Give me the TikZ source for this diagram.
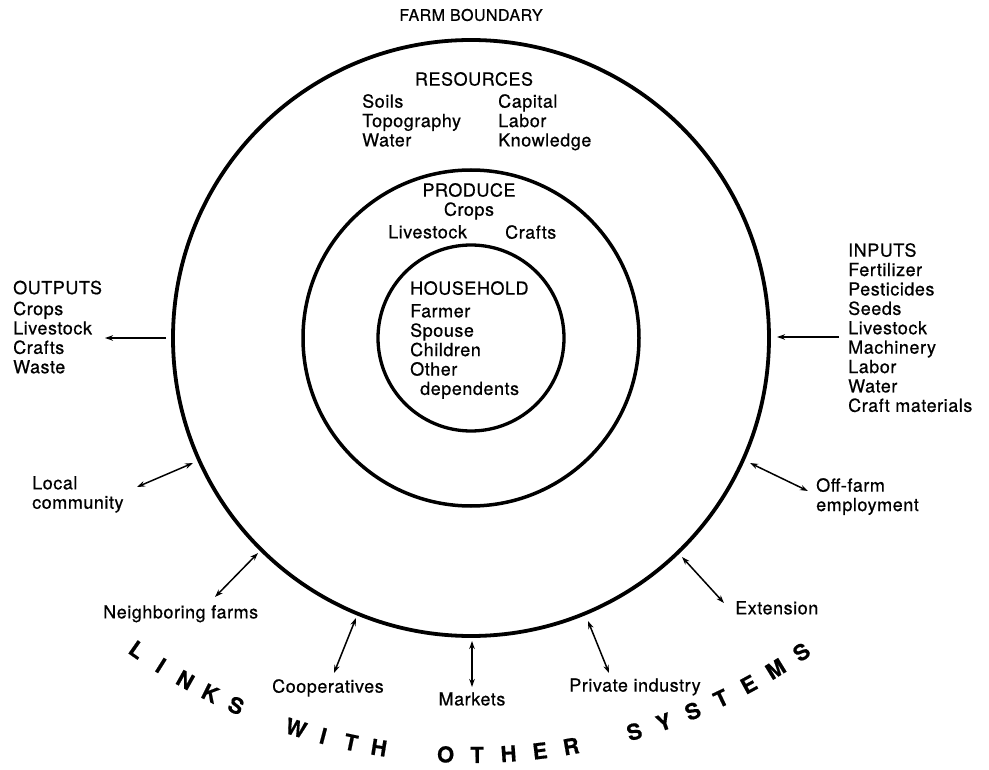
\documentclass[tikz,border=0pt]{standalone}
\usepackage{fontspec}
\setmainfont{TeX Gyre Heros}[LetterSpace=3,FakeBold=0.6]
\usetikzlibrary{arrows.meta}
\begin{document}
\begin{tikzpicture}[x=1pt,y=-1pt,
  ring/.style={draw, circle, inner sep=0pt, outer sep=0pt},
  txt/.style={inner sep=0pt, align=left, anchor=north west, font=\fontsize{18}{19.4}\selectfont},
  ctxt/.style={inner sep=0pt, anchor=center, font=\fontsize{18}{19.4}\selectfont},
  link/.style={line width=1.5pt, {Stealth[length=8pt,width=5.5pt]}-{Stealth[length=8pt,width=5.5pt]}},
  flow/.style={line width=1.5pt, -{Stealth[length=8pt,width=5.5pt]}},
  big/.style={inner sep=0pt, font=\bfseries\fontsize{22}{22}\selectfont}]
\useasboundingbox (0,0) rectangle (989,770);
\fill[white] (0,0) rectangle (989,770);

% circles
\node[ring, line width=3.8pt, minimum size=596pt] (outer) at (471,338) {};
\node[ring, line width=3.5pt, minimum size=336pt] (middle) at (471,338) {};
\node[ring, line width=3.3pt, minimum size=186pt] (inner) at (471,338) {};

% titles and texts
\node[ctxt, font=\fontsize{16}{16}\selectfont] (fb) at (471,15) {FARM BOUNDARY};
\node[ctxt] (res) at (474,79) {RESOURCES};
\node[txt] (resl) at (362,94) {Soils\\Topography\\Water};
\node[txt] (resr) at (498,94) {Capital\\Labor\\Knowledge};

\node[ctxt] (prod) at (469,190) {PRODUCE};
\node[ctxt] (pcrops) at (469,211) {Crops};
\node[txt] (pliv) at (388,225) {Livestock};
\node[txt] (pcraft) at (505,225) {Crafts};

\node[txt] (hh) at (410,281) {HOUSEHOLD};
\node[txt] (hhl) at (410,304) {Farmer\\Spouse\\Children\\Other\\\hspace*{10pt}dependents};

\node[txt] (out) at (13,280.5) {OUTPUTS\\[1.5pt]Crops\\Livestock\\Crafts\\Waste};
\node[txt] (inp) at (848,243) {INPUTS\\Fertilizer\\Pesticides\\Seeds\\Livestock\\Machinery\\Labor\\Water\\Craft materials};

\node[txt] (off) at (816,478) {Off-farm\\employment};
\node[txt] (ext) at (735,601) {Extension};
\node[txt] (loc) at (32,476) {Local\\community};
\node[txt] (nei) at (103,605) {Neighboring farms};
\node[txt] (coop) at (272,679) {Cooperatives};
\node[ctxt] (mkt) at (472,699) {Markets};
\node[ctxt] (priv) at (635,687) {Private industry};

% arrow end points
\coordinate (o1) at (166,338); \coordinate (o2) at (105,338);
\coordinate (i1) at (839,337); \coordinate (i2) at (777,337);
\coordinate (of1) at (750,463); \coordinate (of2) at (808,491);
\coordinate (ex1) at (682,557); \coordinate (ex2) at (724,603);
\coordinate (lc1) at (193,463); \coordinate (lc2) at (137,487);
\coordinate (nf1) at (258,553); \coordinate (nf2) at (215,597);
\coordinate (cp1) at (356,618); \coordinate (cp2) at (334,673);
\coordinate (mk1) at (472,641); \coordinate (mk2) at (472,687);
\coordinate (pi1) at (588,621); \coordinate (pi2) at (609,673);

\draw[flow] (o1) -- (o2);
\draw[flow] (i1) -- (i2);
\draw[link] (of1) -- (of2);
\draw[link] (ex1) -- (ex2);
\draw[link] (lc1) -- (lc2);
\draw[link] (nf1) -- (nf2);
\draw[link] (cp1) -- (cp2);
\draw[link] (mk1) -- (mk2);
\draw[link] (pi1) -- (pi2);

% curved caption
\foreach \ch/\ang [count=\i] in {L/-35,I/-32.2,N/-29.4,K/-26.6,S/-23.8,
   W/-17.5,I/-14.7,T/-11.9,H/-9.1,
   O/-2.5,T/0.6,H/3.7,E/6.8,R/9.9,
   S/16.3,Y/19.35,S/22.4,T/25.45,E/28.5,M/31.55,S/34.6}
  \node[big, rotate=\ang] (cap\i) at ({471+582*sin(\ang)},{173+582*cos(\ang)}) {\ch};
\end{tikzpicture}
\end{document}
